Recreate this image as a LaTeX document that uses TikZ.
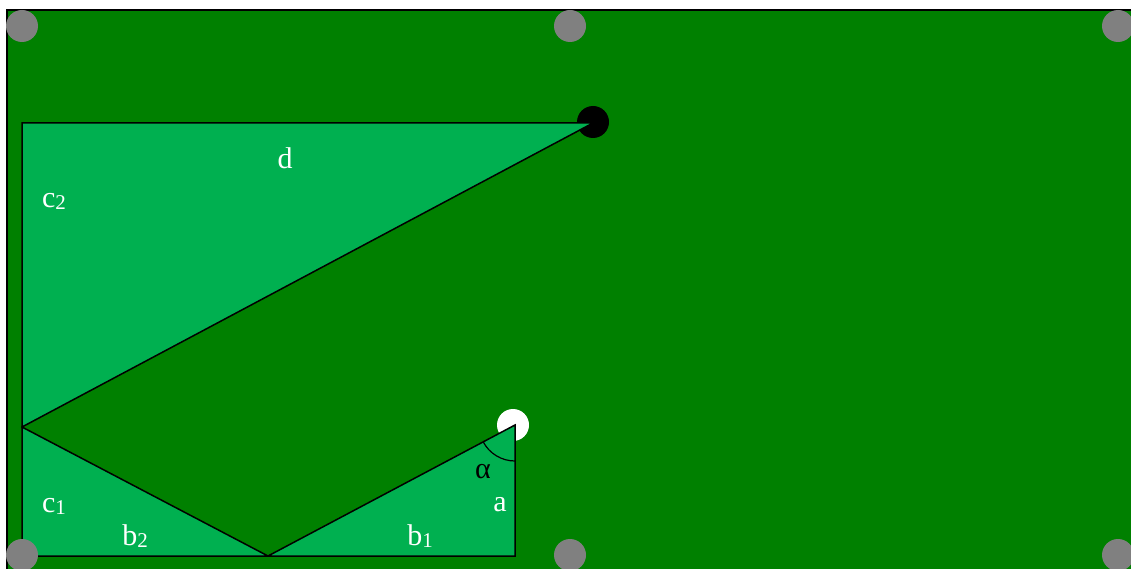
\documentclass[tikz,border=0pt]{standalone}
\usepackage{fontspec}
\setmainfont{Liberation Serif}
\definecolor{table}{RGB}{0,128,0}
\definecolor{tri}{RGB}{0,176,80}
\definecolor{pocket}{RGB}{128,128,128}
\newcommand{\lowsub}[1]{\raisebox{-2pt}{\fontsize{21}{21}\selectfont #1}}
\tikzset{
  pocketdot/.style={circle,fill=pocket,minimum size=32pt,inner sep=0pt},
  ballstyle/.style={circle,minimum size=32pt,inner sep=0pt},
  trifill/.style={fill=tri,draw=black,line width=1.5pt,line join=miter},
  lbl/.style={text=white,font=\fontsize{30}{32}\selectfont,inner sep=0pt},
}
\begin{document}
\begin{tikzpicture}[x=1pt,y=-1pt]
\useasboundingbox (0,0) rectangle (1131,569);
\fill[white] (0,0) rectangle (1131,569);
\draw[fill=table,line width=1.2pt] (7,10) rectangle (1140,580);
% balls (behind triangles)
\node[ballstyle,fill=black] (black) at (593,122) {};
\node[ballstyle,fill=white] (cue) at (513,425) {};
% triangles
\coordinate (A) at (22,123);
\coordinate (B) at (593,123);
\coordinate (C) at (22,427);
\coordinate (D) at (22,556);
\coordinate (E) at (268,556);
\coordinate (F) at (515,556);
\coordinate (G) at (515,425);
\draw[trifill] (A) -- (B) -- (C) -- cycle;
\draw[trifill] (C) -- (D) -- (E) -- cycle;
\draw[trifill] (E) -- (F) -- (G) -- cycle;
\draw[line width=1.2pt] (G) ++(152.2:36) arc[start angle=152.2,end angle=90,radius=36];
% pockets
\node[pocketdot] (p1) at (22,26) {};
\node[pocketdot] (p2) at (570,26) {};
\node[pocketdot] (p3) at (1118,26) {};
\node[pocketdot] (p4) at (22,555) {};
\node[pocketdot] (p5) at (570,555) {};
\node[pocketdot] (p6) at (1118,555) {};
% labels
\node[lbl] (ld) at (285,158) {d};
\node[lbl] (lc2) at (54,201) {c\lowsub{2}};
\node[lbl] (lc1) at (54,506) {c\lowsub{1}};
\node[lbl] (lb2) at (135,536) {b\lowsub{2}};
\node[lbl] (lb1) at (420,536) {b\lowsub{1}};
\node[lbl] (la) at (500,505) {a};
\node[lbl,text=black] (lal) at (483,472) {α};
\end{tikzpicture}
\end{document}
